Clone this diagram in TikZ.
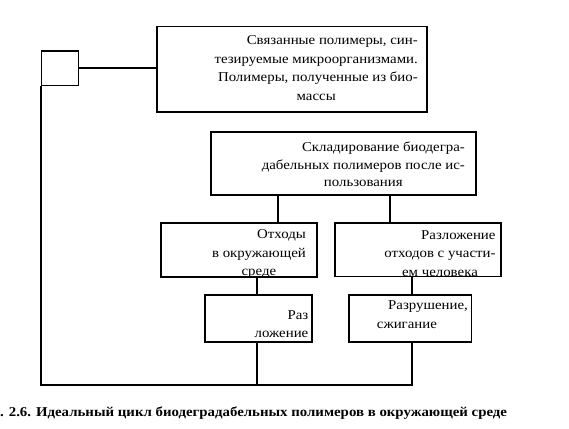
\documentclass[tikz,border=0pt]{standalone}
\usepackage{fontspec}
\setmainfont[FakeStretch=1.1]{Liberation Serif}
\begin{document}
\begin{tikzpicture}[x=1pt,y=-1pt,
  box/.style={draw, line width=1.5pt, inner sep=0pt, anchor=north west},
  conn/.style={line width=1.5pt},
  txt/.style={inner sep=0pt, font=\fontsize{13.5}{#1}\selectfont},
  txt/.default=18.3]
\useasboundingbox (0,0) rectangle (569,428);
% boxes
\node[box, minimum width=37pt, minimum height=34.5pt] (sq) at (40.8,50) {};
\node[box, minimum width=270pt, minimum height=85pt] (b1) at (156,26) {};
\node[box, minimum width=265pt, minimum height=63pt] (b2) at (210,131) {};
\node[box, minimum width=156pt, minimum height=54pt] (b3) at (160,222) {};
\node[box, minimum width=166pt, minimum height=53.5pt] (b4) at (334,222) {};
\node[box, minimum width=107pt, minimum height=47pt] (b5) at (204,294) {};
\node[box, minimum width=122.5pt, minimum height=47pt] (b6) at (348,294) {};
% texts
\begin{scope}
\clip (b1.south west) rectangle (b1.north east);
\node[txt=18.7, anchor=base east] (t1) at (418,44.6) {\begin{tabular}[t]{@{}r@{}}Связанные полимеры, син-\\тезируемые микроорганизмами.\\Полимеры, полученные из био-\\\multicolumn{1}{@{}c@{}}{массы}\end{tabular}};
\end{scope}
\begin{scope}
\clip (b2.south west) rectangle (b2.north east);
\node[txt=17.5, anchor=base east] (t2) at (465,151.7) {\begin{tabular}[t]{@{}r@{}}Складирование биодегра-\\дабельных полимеров после ис-\\\multicolumn{1}{@{}c@{}}{пользования}\end{tabular}};
\end{scope}
\begin{scope}
\clip (b3.south west) rectangle (b3.north east);
\node[txt=18.8, anchor=base east] (t3) at (306,238.3) {\begin{tabular}[t]{@{}r@{}}Отходы\\в окружающей\\\multicolumn{1}{@{}c@{}}{среде}\end{tabular}};
\end{scope}
\begin{scope}
\clip (b4.south west) rectangle (b4.north east);
\node[txt=18.5, anchor=base east] (t4) at (495.7,239.3) {\begin{tabular}[t]{@{}r@{}}Разложение\\отходов с участи-\\\multicolumn{1}{@{}c@{}}{ем человека}\end{tabular}};
\end{scope}
\begin{scope}
\clip (b5.south west) rectangle (b5.north east);
\node[txt=17.7, anchor=base east] (t5) at (308.5,319.3) {\begin{tabular}[t]{@{}r@{}}Раз\\ложение\end{tabular}};
\end{scope}
\begin{scope}
\clip (b6.south west) rectangle (b6.north east);
\node[txt, anchor=base east] (t6a) at (468,309) {Разрушение,};
\node[txt, anchor=base west] (t6b) at (376.7,328) {сжигание};
\end{scope}
% connectors
\coordinate (j5) at (257,385);
\coordinate (j6) at (412,385);
\coordinate (corner) at (sq.west |- j5);
\draw[conn] (sq.east) -- (sq.east -| b1.west);
\draw[conn] (b2.south -| 278,0) -- (b3.north -| 278,0);
\draw[conn] (b2.south -| 390,0) -- (b4.north -| 390,0);
\draw[conn] (b3.south -| 257,0) -- (b5.north -| 257,0);
\draw[conn] (b4.south -| 412,0) -- (b6.north -| 412,0);
\draw[conn] (b5.south -| j5) -- (j5);
\draw[conn] (b6.south -| j6) -- (j6) -- (corner) -- (sq.south west);
% caption
\node[anchor=base west, inner sep=0pt, font=\bfseries\fontsize{13.5}{15}\selectfont] (cap) at (0,416) {. 2.6. Идеальный цикл биодеградабельных полимеров в окружающей среде};
\end{tikzpicture}
\end{document}
